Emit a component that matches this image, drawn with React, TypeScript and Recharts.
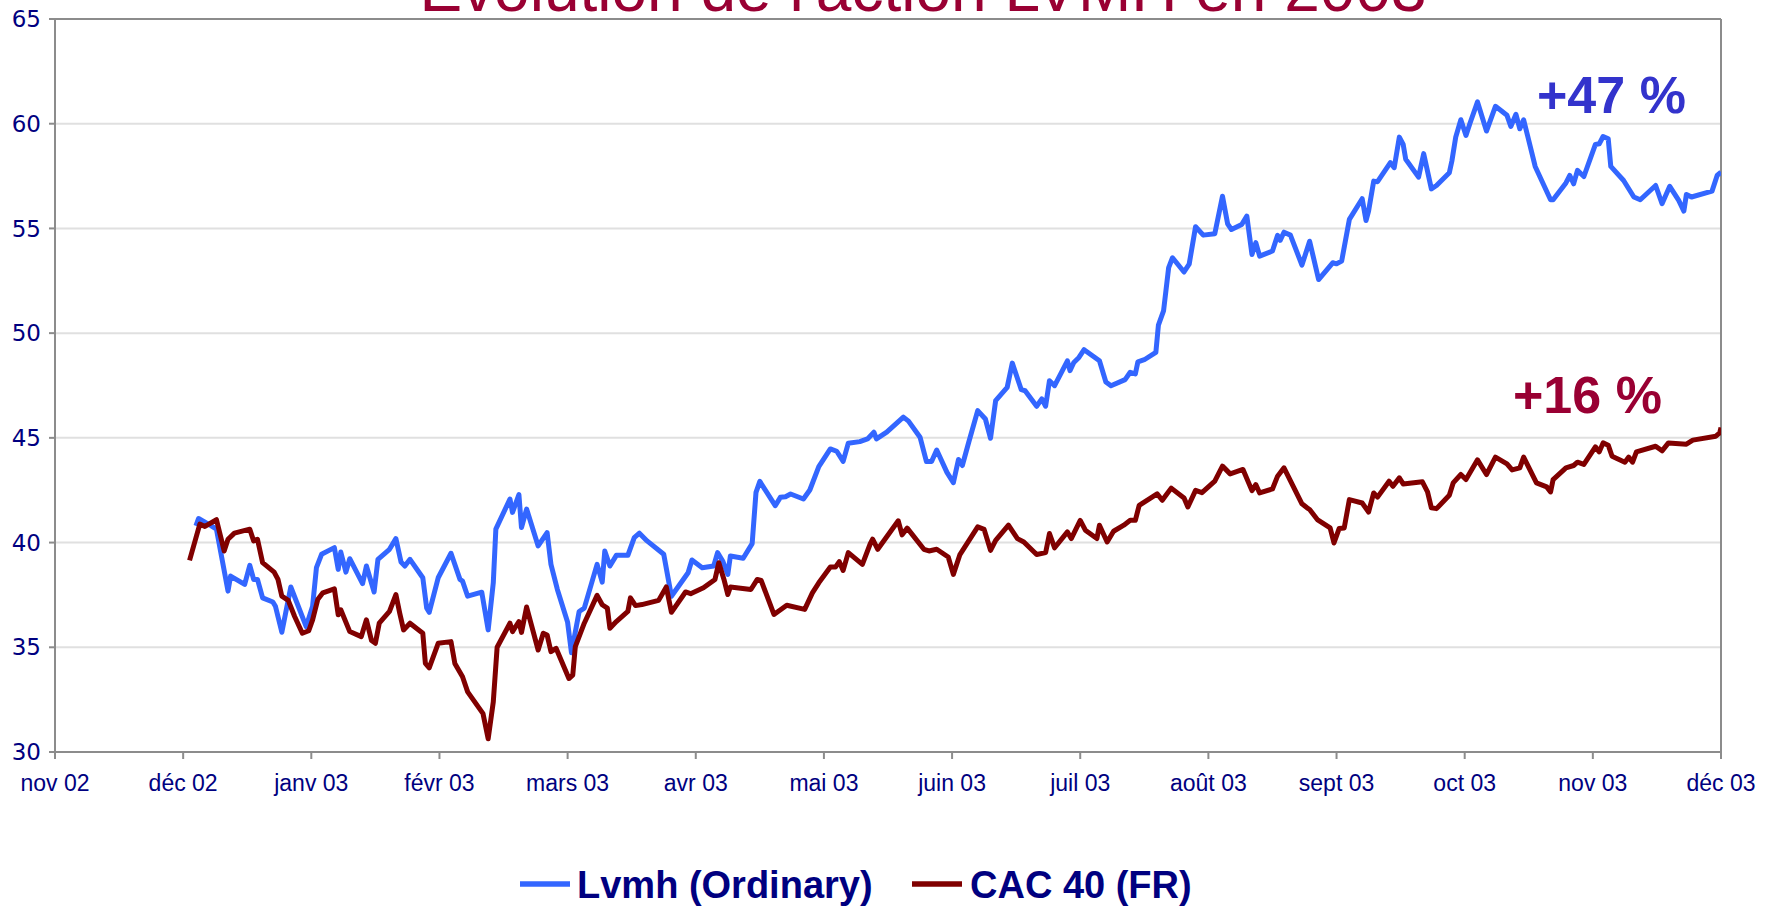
import React from 'react';
import { LineChart, Line, XAxis, YAxis, CartesianGrid, ReferenceLine } from 'recharts';

// x positions are in months counted from 1 Nov 2002 (0 = nov 02, 13 = déc 03)
const monthLabels = ['nov 02', 'déc 02', 'janv 03', 'févr 03', 'mars 03', 'avr 03', 'mai 03', 'juin 03', 'juil 03', 'août 03', 'sept 03', 'oct 03', 'nov 03', 'déc 03'];
const monthTicks = [0, 1, 2, 3, 4, 5, 6, 7, 8, 9, 10, 11, 12, 13];
const valueTicks = [30, 35, 40, 45, 50, 55, 60, 65];

const lvmhMonths = [
  1.10, 1.12, 1.22, 1.26, 1.35, 1.37, 1.48, 1.52, 1.55, 1.58, 1.62, 1.70, 1.72, 1.77, 1.84, 1.96, 2.01, 2.04, 2.08, 2.18,
  2.21, 2.23, 2.27, 2.30, 2.40, 2.43, 2.49, 2.52, 2.61, 2.66, 2.70, 2.73, 2.77, 2.87, 2.90, 2.92, 2.99, 3.09, 3.16, 3.18,
  3.22, 3.33, 3.38, 3.42, 3.44, 3.55, 3.57, 3.62, 3.64, 3.68, 3.77, 3.84, 3.87, 3.92, 4.00, 4.03, 4.09, 4.13, 4.23, 4.27,
  4.29, 4.33, 4.38, 4.47, 4.52, 4.56, 4.62, 4.75, 4.81, 4.94, 4.97, 5.05, 5.14, 5.17, 5.21, 5.25, 5.27, 5.37, 5.44, 5.47,
  5.50, 5.62, 5.66, 5.70, 5.74, 5.84, 5.89, 5.96, 6.05, 6.10, 6.15, 6.19, 6.28, 6.34, 6.39, 6.41, 6.49, 6.62, 6.66, 6.75,
  6.80, 6.84, 6.88, 6.96, 7.01, 7.05, 7.08, 7.13, 7.20, 7.26, 7.30, 7.34, 7.43, 7.47, 7.54, 7.57, 7.66, 7.70, 7.73, 7.76,
  7.80, 7.90, 7.92, 7.95, 7.99, 8.03, 8.15, 8.20, 8.24, 8.35, 8.39, 8.43, 8.45, 8.50, 8.59, 8.61, 8.65, 8.69, 8.72, 8.81,
  8.85, 8.90, 8.96, 9.05, 9.11, 9.15, 9.18, 9.26, 9.30, 9.34, 9.37, 9.40, 9.50, 9.54, 9.56, 9.59, 9.64, 9.73, 9.79, 9.86,
  9.97, 10.00, 10.04, 10.10, 10.20, 10.23, 10.25, 10.29, 10.32, 10.42, 10.45, 10.49, 10.52, 10.54, 10.64, 10.68, 10.74, 10.78, 10.88, 10.90,
  10.93, 10.97, 11.01, 11.04, 11.10, 11.17, 11.24, 11.33, 11.36, 11.40, 11.43, 11.46, 11.55, 11.67, 11.69, 11.79, 11.82, 11.85, 11.88, 11.93,
  12.02, 12.05, 12.08, 12.12, 12.14, 12.24, 12.32, 12.37, 12.49, 12.54, 12.60, 12.67, 12.71, 12.73, 12.77, 12.93, 12.97, 13.00,
];
const lvmhValues = [
  40.80, 41.15, 40.80, 40.64, 37.68, 38.40, 38.00, 38.91, 38.24, 38.24, 37.36, 37.16, 36.96, 35.72, 37.88, 35.99, 36.96, 38.80, 39.44, 39.76,
  38.72, 39.55, 38.59, 39.23, 38.04, 38.88, 37.64, 39.20, 39.68, 40.19, 39.07, 38.88, 39.20, 38.32, 36.88, 36.67, 38.32, 39.49, 38.24, 38.16,
  37.44, 37.63, 35.83, 38.08, 40.64, 42.08, 41.44, 42.29, 40.72, 41.60, 39.84, 40.48, 38.96, 37.76, 36.19, 34.74, 36.71, 36.87, 38.96, 38.11,
  39.60, 38.88, 39.39, 39.39, 40.24, 40.45, 40.08, 39.44, 37.44, 38.56, 39.17, 38.80, 38.88, 39.52, 39.12, 38.48, 39.36, 39.25, 39.95, 42.40,
  42.92, 41.76, 42.16, 42.19, 42.32, 42.08, 42.51, 43.63, 44.47, 44.36, 43.88, 44.74, 44.82, 44.95, 45.27, 44.95, 45.27, 45.99, 45.80, 45.03,
  43.87, 43.87, 44.42, 43.35, 42.86, 43.97, 43.68, 44.79, 46.30, 45.90, 44.98, 46.78, 47.41, 48.57, 47.30, 47.25, 46.51, 46.86, 46.51, 47.73,
  47.49, 48.68, 48.21, 48.60, 48.84, 49.21, 48.68, 47.67, 47.49, 47.78, 48.13, 48.05, 48.63, 48.73, 49.08, 50.38, 51.06, 53.13, 53.60, 52.92,
  53.29, 55.08, 54.68, 54.75, 56.54, 55.22, 54.95, 55.19, 55.59, 53.76, 54.32, 53.68, 53.92, 54.67, 54.43, 54.82, 54.68, 53.25, 54.39, 52.56,
  53.36, 53.31, 53.44, 55.43, 56.42, 55.38, 55.83, 57.26, 57.23, 58.14, 57.90, 59.36, 59.01, 58.30, 57.45, 58.57, 56.89, 57.05, 57.66, 58.22,
  59.36, 60.19, 59.44, 60.00, 61.04, 59.65, 60.83, 60.40, 59.87, 60.45, 59.76, 60.19, 57.96, 56.37, 56.37, 57.17, 57.53, 57.13, 57.77, 57.48,
  59.01, 59.04, 59.39, 59.28, 57.96, 57.29, 56.50, 56.37, 57.05, 56.18, 57.01, 56.34, 55.83, 56.62, 56.50, 56.78, 57.53, 57.69,
];

const cacMonths = [
  1.05, 1.13, 1.17, 1.26, 1.32, 1.35, 1.40, 1.52, 1.55, 1.58, 1.62, 1.71, 1.74, 1.77, 1.82, 1.87, 1.93, 1.98, 2.01, 2.05,
  2.09, 2.18, 2.21, 2.23, 2.30, 2.39, 2.43, 2.47, 2.50, 2.53, 2.61, 2.66, 2.69, 2.72, 2.77, 2.87, 2.89, 2.92, 2.99, 3.09,
  3.12, 3.18, 3.22, 3.34, 3.38, 3.42, 3.45, 3.55, 3.57, 3.62, 3.64, 3.68, 3.77, 3.81, 3.84, 3.87, 3.91, 4.01, 4.04, 4.06,
  4.13, 4.23, 4.27, 4.31, 4.33, 4.38, 4.47, 4.49, 4.53, 4.58, 4.71, 4.77, 4.81, 4.92, 4.96, 5.06, 5.15, 5.18, 5.22, 5.25,
  5.27, 5.43, 5.48, 5.51, 5.61, 5.71, 5.85, 5.91, 5.96, 6.05, 6.09, 6.12, 6.15, 6.19, 6.30, 6.36, 6.38, 6.42, 6.58, 6.61,
  6.65, 6.78, 6.82, 6.88, 6.97, 7.01, 7.06, 7.20, 7.25, 7.30, 7.34, 7.44, 7.51, 7.56, 7.66, 7.73, 7.76, 7.80, 7.90, 7.93,
  8.00, 8.04, 8.13, 8.15, 8.21, 8.26, 8.34, 8.39, 8.43, 8.46, 8.60, 8.64, 8.71, 8.81, 8.84, 8.90, 8.95, 9.05, 9.11, 9.17,
  9.27, 9.34, 9.37, 9.40, 9.50, 9.54, 9.59, 9.73, 9.77, 9.79, 9.85, 9.95, 9.98, 10.02, 10.06, 10.10, 10.20, 10.25, 10.29, 10.32,
  10.41, 10.44, 10.49, 10.52, 10.67, 10.71, 10.74, 10.78, 10.88, 10.91, 10.97, 11.01, 11.10, 11.17, 11.24, 11.33, 11.37, 11.43, 11.46, 11.56,
  11.64, 11.67, 11.69, 11.79, 11.85, 11.88, 11.93, 12.02, 12.05, 12.08, 12.12, 12.15, 12.25, 12.28, 12.31, 12.34, 12.49, 12.54, 12.59, 12.73,
  12.78, 12.96, 12.99, 13.00,
];
const cacValues = [
  39.15, 40.88, 40.77, 41.09, 39.60, 40.16, 40.45, 40.64, 40.08, 40.16, 39.04, 38.59, 38.24, 37.44, 37.24, 36.47, 35.67, 35.79, 36.31, 37.28,
  37.60, 37.79, 36.55, 36.79, 35.75, 35.51, 36.31, 35.32, 35.19, 36.15, 36.71, 37.52, 36.63, 35.83, 36.15, 35.67, 34.23, 34.02, 35.19, 35.27,
  34.23, 33.59, 32.87, 31.83, 30.63, 32.39, 35.00, 36.15, 35.75, 36.23, 35.71, 36.92, 34.87, 35.67, 35.59, 34.79, 34.95, 33.51, 33.67, 35.03,
  36.15, 37.48, 37.03, 36.87, 35.91, 36.23, 36.71, 37.36, 36.99, 37.04, 37.24, 37.88, 36.67, 37.64, 37.56, 37.84, 38.24, 39.04, 38.24, 37.52,
  37.88, 37.76, 38.24, 38.19, 36.57, 37.01, 36.81, 37.60, 38.08, 38.83, 38.83, 39.09, 38.67, 39.52, 38.96, 39.92, 40.16, 39.68, 41.04, 40.37,
  40.69, 39.68, 39.60, 39.68, 39.31, 38.48, 39.41, 40.75, 40.63, 39.63, 40.11, 40.83, 40.19, 40.03, 39.43, 39.52, 40.43, 39.75, 40.51, 40.19,
  41.06, 40.59, 40.19, 40.83, 40.03, 40.54, 40.83, 41.06, 41.06, 41.78, 42.33, 42.02, 42.60, 42.13, 41.70, 42.49, 42.38, 42.93, 43.65, 43.28,
  43.49, 42.48, 42.77, 42.37, 42.56, 43.17, 43.57, 41.85, 41.66, 41.58, 41.10, 40.70, 39.98, 40.67, 40.70, 42.05, 41.89, 41.46, 42.37, 42.17,
  42.93, 42.69, 43.09, 42.80, 42.90, 42.42, 41.66, 41.62, 42.26, 42.85, 43.25, 43.01, 43.95, 43.25, 44.08, 43.76, 43.47, 43.57, 44.08, 42.85,
  42.66, 42.42, 43.01, 43.57, 43.68, 43.84, 43.73, 44.57, 44.33, 44.76, 44.65, 44.12, 43.84, 44.08, 43.84, 44.33, 44.60, 44.38, 44.76, 44.70,
  44.89, 45.08, 45.24, 45.49,
];

const seriesNames = ['Lvmh (Ordinary)', 'CAC 40 (FR)'];
const title = "Evolution de l'action LVMH en 2003";
const lvmhGain = '+47 %';
const cacGain = '+16 %';

const lvmhData = lvmhMonths.map((m, i) => ({ m, v: lvmhValues[i] }));
const cacData = cacMonths.map((m, i) => ({ m, v: cacValues[i] }));

const BLUE = '#3366FF';
const RED = '#800000';
const NAVY = '#000080';
const CRIMSON = '#990033';
const AXIS = '#8c8c8c';
const SANS = '"Liberation Sans", Arial, sans-serif';

export default function App() {
  return (
    <div style={{ position: 'fixed', left: 0, top: 0, width: 1771, height: 906, background: '#fff', overflow: 'hidden' }}>
      <LineChart width={1771} height={906} margin={{ top: 19, right: 50, bottom: 0, left: 0 }}>
        <CartesianGrid vertical={false} stroke="#e0e0e0" strokeWidth={2} />
        <XAxis
          type="number"
          dataKey="m"
          domain={[0, 13]}
          ticks={monthTicks}
          tickFormatter={(t: number) => monthLabels[t]}
          height={154}
          stroke={AXIS}
          strokeWidth={2}
          tickSize={7}
          tickMargin={16}
          tick={{ fill: NAVY, fontSize: 23, fontFamily: SANS }}
          interval={0}
          allowDataOverflow
        />
        <YAxis
          type="number"
          domain={[30, 65]}
          ticks={valueTicks}
          width={55}
          stroke={AXIS}
          strokeWidth={2}
          tickSize={6}
          tickMargin={8}
          tick={{ fill: NAVY, fontSize: 23, fontFamily: '"DejaVu Sans", Verdana, sans-serif' }}
          interval={0}
          allowDataOverflow
        />
        <ReferenceLine y={65} stroke={AXIS} strokeWidth={2} />
        <ReferenceLine x={13} stroke={AXIS} strokeWidth={2} />
        <Line data={lvmhData} dataKey="v" name={seriesNames[0]} type="linear" stroke={BLUE} strokeWidth={5} strokeLinejoin="round" dot={false} isAnimationActive={false} />
        <Line data={cacData} dataKey="v" name={seriesNames[1]} type="linear" stroke={RED} strokeWidth={5} strokeLinejoin="round" dot={false} isAnimationActive={false} />
      </LineChart>
      <svg width={1771} height={906} style={{ position: 'absolute', left: 0, top: 0, pointerEvents: 'none' }}>
        <text x={923} y={11} textAnchor="middle" fontSize={64} fill={CRIMSON} fontFamily={SANS}>{title}</text>
        <text x={1537} y={113} fontSize={52} fontWeight="bold" fill="#3333cc" fontFamily={SANS}>{lvmhGain}</text>
        <text x={1513} y={413} fontSize={52} fontWeight="bold" fill={CRIMSON} fontFamily={SANS}>{cacGain}</text>
        <line x1={520} x2={570} y1={884} y2={884} stroke={BLUE} strokeWidth={5.5} />
        <text x={577} y={898} fontSize={38} fontWeight="bold" fill={NAVY} fontFamily={SANS}>{seriesNames[0]}</text>
        <line x1={912} x2={962} y1={884} y2={884} stroke={RED} strokeWidth={5.5} />
        <text x={970} y={898} fontSize={38} fontWeight="bold" fill={NAVY} fontFamily={SANS}>{seriesNames[1]}</text>
      </svg>
    </div>
  );
}
